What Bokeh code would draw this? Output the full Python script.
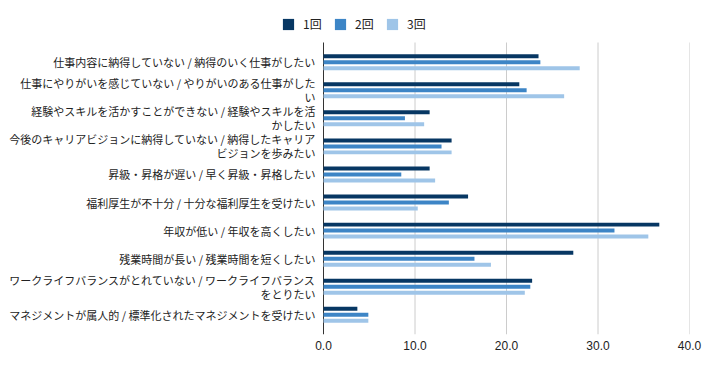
from bokeh.plotting import figure
from bokeh.models import (ColumnDataSource, Range1d, FixedTicker, PrintfTickFormatter,
                          Legend, LegendItem)
from bokeh.core.properties import value
from bokeh.transform import dodge
from bokeh.embed import file_html
from bokeh.resources import INLINE

categories = [
    "仕事内容に納得していない / 納得のいく仕事がしたい",
    "仕事にやりがいを感じていない / やりがいのある仕事がした\nい",
    "経験やスキルを活かすことができない / 経験やスキルを活\nかしたい",
    "今後のキャリアビジョンに納得していない / 納得したキャリア\nビジョンを歩みたい",
    "昇級・昇格が遅い / 早く昇級・昇格したい",
    "福利厚生が不十分 / 十分な福利厚生を受けたい",
    "年収が低い / 年収を高くしたい",
    "残業時間が長い / 残業時間を短くしたい",
    "ワークライフバランスがとれていない / ワークライフバランス\nをとりたい",
    "マネジメントが属人的 / 標準化されたマネジメントを受けたい",
]
series_names = ["1回", "2回", "3回"]
round1 = [23.5, 21.4, 11.6, 14.0, 11.6, 15.8, 36.7, 27.3, 22.8, 3.7]
round2 = [23.7, 22.2, 8.9, 12.9, 8.5, 13.7, 31.8, 16.5, 22.6, 4.9]
round3 = [28.0, 26.3, 11.0, 14.0, 12.2, 10.3, 35.5, 18.3, 22.0, 4.9]
x_ticks = [0, 10, 20, 30, 40]

colors = ["#073763", "#3d85c6", "#9fc5e8"]

# ---- layout constants (pixels) ----
W, H = 704, 363
plot_left, plot_top, plot_right, plot_bottom = 323, 42, 689, 334
x_max = 40
y_lo, y_hi = -0.7, 9.7          # category band extent (top, bottom)

px_per_x = (plot_right - plot_left) / x_max
px_per_y = (plot_bottom - plot_top) / (y_hi - y_lo)
x_left = -plot_left / px_per_x
y_top = y_lo - plot_top / px_per_y

pos = list(range(len(categories)))
source = ColumnDataSource(dict(y=pos, r1=round1, r2=round2, r3=round3))

# category labels: one text line each (wrapped labels get two lines)
line_gap = 0.25
lab_y, lab_t = [], []
for i, cat in enumerate(categories):
    lines = cat.split("\n")
    if len(lines) == 1:
        lab_y.append(i)
        lab_t.append(lines[0])
    else:
        for k, ln in enumerate(lines):
            lab_y.append(i - line_gap if k == 0 else i + line_gap)
            lab_t.append(ln)
lab_src = ColumnDataSource(dict(x=[0] * len(lab_y), y=lab_y, text=lab_t))

p = figure(width=W, height=H, output_backend="svg", toolbar_location=None,
           x_range=Range1d(x_left, x_max), y_range=Range1d(y_hi, y_top),
           y_axis_location=None,
           min_border_left=0, min_border_right=W - plot_right, min_border_top=0,
           min_border_bottom=H - plot_bottom)
p.outline_line_color = None
p.background_fill_color = "white"
p.grid.grid_line_color = None

# vertical grid lines (10..40) and the category axis line at 0
grid_x = x_ticks[1:]
p.segment(x0=grid_x, x1=grid_x, y0=[y_lo] * len(grid_x), y1=[y_hi] * len(grid_x),
          line_color="#cccccc", line_width=1)
p.segment(x0=[0], x1=[0], y0=[y_lo], y1=[y_hi], line_color="#333333", line_width=1)

offs = [-0.2135, 0.0, 0.2135]
keys = ["r1", "r2", "r3"]
renderers = []
for key, off, c in zip(keys, offs, colors):
    renderers.append(p.hbar(y=dodge("y", off), right=key, left=0, height=0.142,
                            source=source, fill_color=c, line_color=None))

p.text(x="x", y="y", text="text", source=lab_src, x_offset=-8,
       text_align="right", text_baseline="middle",
       text_font=value("Noto Sans CJK JP"), text_font_size=value("11px"),
       text_color="#222222")

# x axis
xa = p.xaxis[0]
xa.ticker = FixedTicker(ticks=x_ticks)
xa.formatter = PrintfTickFormatter(format="%.1f")
xa.axis_line_color = None
xa.major_tick_line_color = None
xa.minor_tick_line_color = None
xa.major_tick_out = 0
xa.major_label_standoff = 6
xa.major_label_text_font = "Liberation Sans"
xa.major_label_text_font_size = "12px"
xa.major_label_text_color = "#222222"

legend = Legend(items=[LegendItem(label=n, renderers=[r]) for n, r in zip(series_names, renderers)],
                orientation="horizontal", location=(281, plot_bottom - 32),
                padding=0, margin=0, spacing=10,
                glyph_width=14, glyph_height=14, label_standoff=8,
                label_width=20, label_height=14,
                label_text_font="Noto Sans CJK JP", label_text_font_size="12px",
                label_text_color="#222222",
                border_line_color=None, background_fill_alpha=0)
p.add_layout(legend, "center")

open("out.html", "w").write(file_html(p, INLINE))
